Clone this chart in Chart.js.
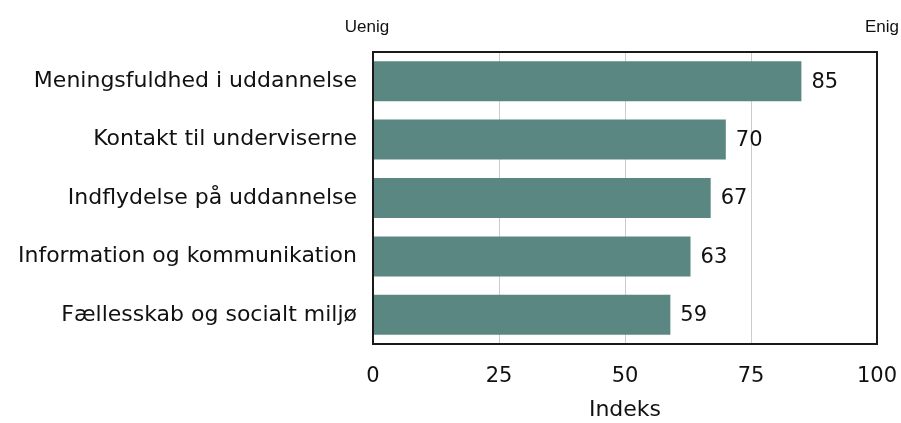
<!DOCTYPE html>
<html>
<head>
<meta charset="utf-8">
<script src="https://cdn.jsdelivr.net/npm/chart.js@4"></script>
<style>
html,body{margin:0;padding:0;background:#fff;}
#wrap{width:901px;height:423px;position:relative;}
</style>
</head>
<body>
<div id="wrap"><canvas id="c" width="901" height="423"></canvas></div>
<script>
const categories = [
  "Meningsfuldhed i uddannelse",
  "Kontakt til underviserne",
  "Indflydelse på uddannelse",
  "Information og kommunikation",
  "Fællesskab og socialt miljø"
];
const values = [85, 70, 67, 63, 59];
const xTicks = [0, 25, 50, 75, 100];
const axisTitle = "Indeks";
const leftLabel = "Uenig";
const rightLabel = "Enig";

const FONT = "'DejaVu Sans', Verdana, sans-serif";
const barColor = "#5b8783";

const boxPlugin = {
  id: 'box',
  afterDatasetsDraw(chart) {
    const {ctx, chartArea: a} = chart;
    ctx.save();
    ctx.strokeStyle = '#1a1a1a';
    ctx.lineWidth = 2;
    ctx.strokeRect(a.left, a.top, a.right - a.left, a.bottom - a.top);
    // value labels
    const meta = chart.getDatasetMeta(0);
    ctx.fillStyle = '#111';
    ctx.font = "21px " + FONT;
    ctx.textAlign = 'left';
    ctx.textBaseline = 'middle';
    meta.data.forEach((bar, i) => {
      ctx.fillText(String(values[i]), bar.x + 10, bar.y + 1);
    });
    // Uenig / Enig
    const xs = chart.scales.x;
    ctx.font = "17px 'Liberation Sans', Arial, sans-serif";
    ctx.textBaseline = 'alphabetic';
    ctx.textAlign = 'center';
    ctx.fillText(leftLabel, xs.getPixelForValue(0) - 6, 32);
    ctx.textAlign = 'right';
    ctx.fillText(rightLabel, 899, 32);
    ctx.restore();
  }
};

new Chart(document.getElementById('c'), {
  type: 'bar',
  data: {
    labels: categories,
    datasets: [{
      data: values,
      backgroundColor: barColor,
      borderWidth: 0,
      categoryPercentage: 1.0,
      barPercentage: 0.685
    }]
  },
  options: {
    indexAxis: 'y',
    responsive: false,
    animation: false,
    devicePixelRatio: 1,
    layout: { padding: { top: 52, right: 24, left: 0, bottom: 0 } },
    plugins: { legend: { display: false }, tooltip: { enabled: false } },
    scales: {
      x: {
        min: 0, max: 100,
        afterBuildTicks(scale) { scale.ticks = xTicks.map(v => ({value: v})); },
        afterFit(scale) { scale.height = 79; scale.paddingRight = 0; scale.paddingLeft = 0; },
        grid: { color: '#cccccc', lineWidth: 1, drawTicks: false },
        border: { display: false },
        ticks: { color: '#111', font: { family: FONT, size: 21 }, padding: 20, maxRotation: 0 },
        title: { display: true, text: axisTitle, color: '#111', font: { family: FONT, size: 22 }, padding: { top: 11, bottom: 0 } }
      },
      y: {
        afterFit(scale) { scale.width = 373; scale.paddingTop = 0; scale.paddingBottom = 0; },
        grid: { display: false, drawTicks: false },
        border: { display: false },
        ticks: { color: '#111', font: { family: FONT, size: 22 }, padding: 16 }
      }
    }
  },
  plugins: [boxPlugin]
});
</script>
</body>
</html>
